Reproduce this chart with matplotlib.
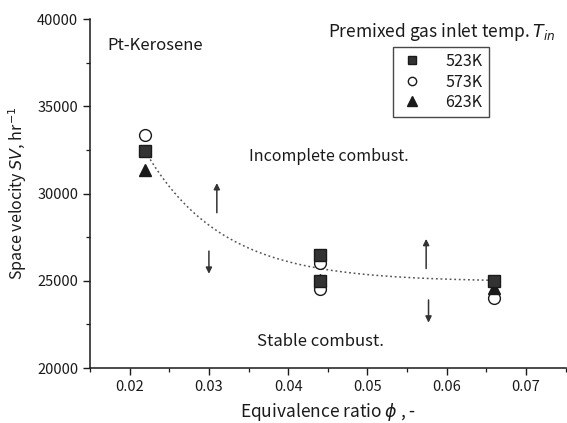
import numpy as np
import matplotlib
matplotlib.use("Agg")
import matplotlib.pyplot as plt

plt.rcParams['font.family'] = ['Noto Sans CJK JP', 'DejaVu Sans']
plt.rcParams['mathtext.fontset'] = 'dejavusans'

# equivalence ratio and space velocity
phi_523 = [0.022, 0.044, 0.044, 0.066]
sv_523 = [32450, 26450, 25000, 25000]
phi_573 = [0.022, 0.044, 0.044, 0.066]
sv_573 = [33350, 26000, 24500, 24000]
phi_623 = [0.022, 0.044, 0.066]
sv_623 = [31350, 25050, 24600]

# exponential trend line parameters (as drawn in the reference)
fit_base = 24950
fit_amp = 7450
fit_scale = 0.0096
fit_start, fit_end = 0.022, 0.066

ink = '#1a1a1a'

fig = plt.figure(figsize=(5.67, 4.23), dpi=100)
ax = fig.add_axes([0.1587, 0.13, 0.839, 0.825])

phi_fit = np.linspace(fit_start, fit_end, 200)
sv_fit = fit_base + fit_amp * np.exp(-(phi_fit - fit_start) / fit_scale)
ax.plot(phi_fit, sv_fit, linestyle=(0, (1.2, 1.8)), color='#555555', lw=1.1, zorder=1)

ax.plot(phi_573, sv_573, 'o', ms=8.5, mfc='white', mec=ink, mew=1.0, ls='none', zorder=2)
ax.plot(phi_623, sv_623, '^', ms=9, mfc=ink, mec=ink, ls='none', zorder=3)
ax.plot(phi_523, sv_523, 's', ms=8, mfc='#333333', mec=ink, ls='none', zorder=4)

# legend handles
h1, = ax.plot([], [], 's', ms=6, mfc='#333333', mec=ink)
h2, = ax.plot([], [], 'o', ms=6, mfc='white', mec=ink)
h3, = ax.plot([], [], '^', ms=7, mfc=ink, mec=ink)
leg = ax.legend([h1, h2, h3], ['523K', '573K', '623K'], loc='upper left',
                bbox_to_anchor=(0.637, 0.92), frameon=True, fancybox=False,
                edgecolor=ink, fontsize=11.5, handlelength=1.6,
                handletextpad=1.3, borderpad=0.38, labelspacing=0.22,
                borderaxespad=0)
leg.get_frame().set_linewidth(1.0)
for t in leg.get_texts():
    t.set_color(ink)

# arrows marking the two regions
arrows = [((0.0310, 28900), (0.0310, 30600)),
          ((0.0300, 26700), (0.0300, 25400)),
          ((0.0574, 25700), (0.0574, 27400)),
          ((0.0577, 23900), (0.0577, 22600))]
for start, end in arrows:
    ax.annotate('', xy=end, xytext=start,
                arrowprops=dict(arrowstyle='-|>', color='#333333', lw=1.1,
                                mutation_scale=9, shrinkA=0, shrinkB=0))

ax.text(0.0172, 38500, 'Pt-Kerosene', fontsize=12, color=ink, va='center')
ax.text(0.0451, 32100, 'Incomplete combust.', fontsize=11.5, color=ink,
        ha='center', va='center')
ax.text(0.0441, 21500, 'Stable combust.', fontsize=12, color=ink,
        ha='center', va='center')
ax.text(0.500, 0.962, r'Premixed gas inlet temp. $T_{in}$', transform=ax.transAxes,
        fontsize=12.5, color=ink, va='center')

ax.set_xlim(0.015, 0.075)
ax.set_ylim(20000, 40000)
ax.set_xticks([0.02, 0.03, 0.04, 0.05, 0.06, 0.07])
ax.set_xticklabels(['0.02', '0.03', '0.04', '0.05', '0.06', '0.07'])
ax.set_xticks(np.arange(0.015, 0.0751, 0.005), minor=True)
ax.set_yticks([20000, 25000, 30000, 35000, 40000])
ax.set_yticks(np.arange(20000, 40001, 2500), minor=True)

ax.set_xlabel(r'Equivalence ratio $\phi$ , -', fontsize=12.5, color=ink, labelpad=5)
ax.set_ylabel(r'Space velocity $SV$, hr$^{-1}$', fontsize=11.5, color=ink, labelpad=6)

for s in ['top', 'right']:
    ax.spines[s].set_visible(False)
for s in ['left', 'bottom']:
    ax.spines[s].set_color(ink)
    ax.spines[s].set_linewidth(1.1)
ax.tick_params(which='major', direction='out', length=5, width=1.0,
               colors=ink, labelsize=10.5)
ax.tick_params(which='minor', direction='out', length=3, width=0.9, colors=ink)

fig.savefig('out.png', dpi=100)
